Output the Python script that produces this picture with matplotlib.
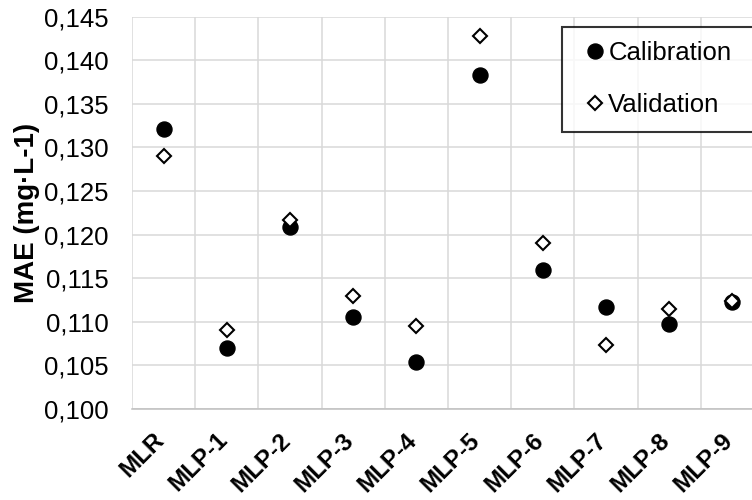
import numpy as np
import matplotlib.pyplot as plt
import matplotlib.transforms as mtransforms
from matplotlib.ticker import FuncFormatter, FixedLocator

plt.rcParams['font.family'] = ['Liberation Sans', 'DejaVu Sans']

# data
models = ['MLR', 'MLP-1', 'MLP-2', 'MLP-3', 'MLP-4', 'MLP-5', 'MLP-6', 'MLP-7', 'MLP-8', 'MLP-9']
calibration = [0.1321, 0.1070, 0.1209, 0.1106, 0.1054, 0.1383, 0.1159, 0.1117, 0.1097, 0.1123]
validation = [0.1290, 0.1091, 0.1217, 0.1130, 0.1095, 0.1428, 0.1190, 0.1073, 0.1115, 0.1124]
y_ticks = [0.100, 0.105, 0.110, 0.115, 0.120, 0.125, 0.130, 0.135, 0.140, 0.145]

fig = plt.figure(figsize=(7.52, 5.0), dpi=100)
ax = fig.add_axes([132/752, 1-409/500, 632/752, 392.4/500])

x = np.arange(len(models))
ax.plot(x, calibration, linestyle='none', marker='o', markersize=10.8,
        color='black', label='Calibration', zorder=3)
ax.plot(x, validation, linestyle='none', marker='D', markersize=7.6,
        markerfacecolor='white', markeredgecolor='black', markeredgewidth=1.5,
        label='Validation', zorder=4)

ax.set_xlim(-0.5, len(models) - 0.5)
ax.set_ylim(0.100, 0.145)
ax.set_yticks(y_ticks)
ax.yaxis.set_major_formatter(FuncFormatter(lambda v, p: ('%.3f' % v).replace('.', ',')))
ax.set_xticks(x)
ax.set_xticklabels(models, rotation=45, ha='right', va='top', fontweight='bold', fontsize=17.5)
ax.xaxis.set_minor_locator(FixedLocator(np.arange(-0.5, len(models), 1.0)))

ax.grid(True, axis='y', which='major', color='#d9d9d9', linewidth=1.1)
ax.grid(True, axis='x', which='minor', color='#d9d9d9', linewidth=1.1)
ax.set_axisbelow(True)
ax.tick_params(axis='both', which='both', length=0)
ax.tick_params(axis='y', labelsize=18.5, pad=17)
ax.tick_params(axis='x', pad=14)

offset = mtransforms.ScaledTranslation(5/100, 0, fig.dpi_scale_trans)
for lab in ax.get_xticklabels():
    lab.set_transform(lab.get_transform() + offset)

for s in ['top', 'right', 'left']:
    ax.spines[s].set_visible(False)
ax.spines['bottom'].set_color('#bfbfbf')
ax.spines['bottom'].set_linewidth(1.1)

ax.set_ylabel('MAE (mg·L-1)', fontsize=20, fontweight='bold', va='center')
ax.yaxis.set_label_coords(-105/632, 0.5)

leg = fig.legend(loc='upper left', bbox_to_anchor=(562/752, 1-27/500, 210/752, 0),
                 mode='expand', fontsize=18.5,
                 frameon=True, fancybox=False, edgecolor='black', borderpad=0.55,
                 handlelength=1.45, handletextpad=-0.2, labelspacing=1.1,
                 borderaxespad=0)
leg.get_frame().set_linewidth(1.5)

fig.savefig('out.png', dpi=100)
